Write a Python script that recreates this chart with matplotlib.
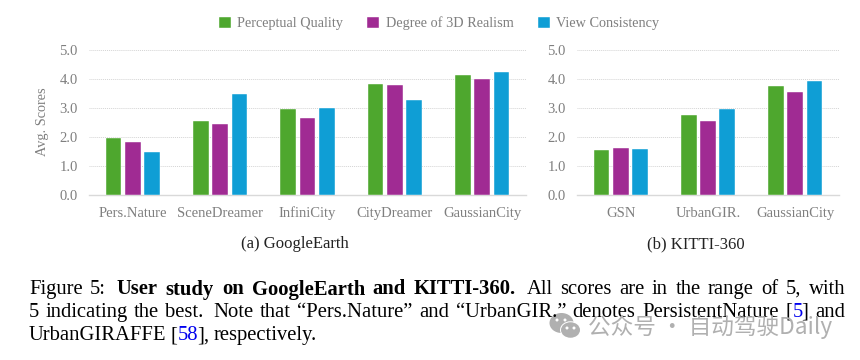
import matplotlib
matplotlib.use("Agg")
import matplotlib.pyplot as plt
from matplotlib.patches import Ellipse
import numpy as np

plt.rcParams['font.family'] = ['Liberation Serif', 'DejaVu Sans']

# data
series_names = ['Perceptual Quality', 'Degree of 3D Realism', 'View Consistency']
series_colors = ['#4EA72E', '#A02B93', '#0F9ED5']

ge_methods = ['Pers.Nature', 'SceneDreamer', 'InfiniCity', 'CityDreamer', 'GaussianCity']
ge_quality = [1.98, 2.57, 2.98, 3.84, 4.15]
ge_realism = [1.84, 2.47, 2.67, 3.79, 4.00]
ge_consistency = [1.51, 3.51, 3.01, 3.30, 4.25]

kitti_methods = ['GSN', 'UrbanGIR.', 'GaussianCity']
kitti_quality = [1.55, 2.76, 3.78]
kitti_realism = [1.64, 2.57, 3.56]
kitti_consistency = [1.60, 2.98, 3.93]

yticks = [0, 1, 2, 3, 4, 5]

GREY = '#7f7f7f'
W, H = 860, 360


def draw_panel(ax, methods, values):
    '''
    Grouped bars with dotted grid
    '''
    x = np.arange(len(methods))
    bars = []
    for i, v in enumerate(values):
        b = ax.bar(x + (i - 1) * 0.221, v, width=0.18, color=series_colors[i],
                   edgecolor='white', linewidth=0.3, zorder=3,
                   label=series_names[i])
        bars.append(b)
    ax.set_xlim(-0.5, len(methods) - 0.5)
    ax.set_ylim(0, 5)
    ax.set_xticks(x)
    ax.set_xticklabels(methods, va='baseline')
    ax.set_yticks(yticks)
    ax.set_yticklabels(['%.1f' % t for t in yticks])
    ax.tick_params(length=0, labelsize=10.5, labelcolor=GREY)
    ax.tick_params(axis='x', pad=15.5)
    ax.tick_params(axis='y', pad=8)
    ax.grid(axis='y', color='#d4d4d4', linestyle=(0, (1, 1)), linewidth=0.7, zorder=0)
    ax.set_axisbelow(True)
    ax.spines[['left', 'top', 'right']].set_visible(False)
    ax.spines['bottom'].set_color('#d9d9d9')
    ax.spines['bottom'].set_linewidth(1.0)
    ax.yaxis.get_gridlines()[0].set_visible(False)
    return bars


def px_axes(fig, left, right, top, bottom):
    return fig.add_axes([left / W, 1 - bottom / H, (right - left) / W, (bottom - top) / H])


def justified(ax, renderer, x0, x1, y, s, weight='normal', color='black', size=14.9):
    '''
    Put the words of a run so that they fill x0..x1 like the justified caption
    '''
    words = [ax.text(0, y, w, fontsize=size, fontweight=weight, color=color,
                     ha='left', va='center_baseline') for w in s.split(' ')]
    widths = [t.get_window_extent(renderer).width for t in words]
    gap = (x1 - x0 - sum(widths)) / max(len(words) - 1, 1)
    x = x0
    for t, w in zip(words, widths):
        t.set_x(x)
        x += w + gap


fig = plt.figure(figsize=(8.6, 3.6), dpi=100)
renderer = fig.canvas.get_renderer()

ax1 = px_axes(fig, 89, 526, 50.3, 195.3)
ax2 = px_axes(fig, 577, 839, 50.3, 195.3)
bars = draw_panel(ax1, ge_methods, [ge_quality, ge_realism, ge_consistency])
draw_panel(ax2, kitti_methods, [kitti_quality, kitti_realism, kitti_consistency])

fig.legend(handles=[b[0] for b in bars], labels=series_names, ncol=3,
           loc='center', bbox_to_anchor=(439 / W, 1 - 23.5 / H), frameon=False,
           fontsize=10.3, labelcolor=GREY, handlelength=0.84, handleheight=0.84,
           handletextpad=0.45, columnspacing=1.68, borderpad=0)

# everything else placed in pixel coordinates
over = fig.add_axes([0, 0, 1, 1], zorder=5)
over.set_xlim(0, W)
over.set_ylim(H, 0)
over.axis('off')

over.text(42.5, 122, 'Avg. Scores', rotation=90, ha='center', va='center',
          fontsize=10.3, color=GREY)
over.text(295, 244, '(a) GoogleEarth', ha='center', va='center', fontsize=12, color='#222222')
over.text(695.5, 244, '(b) KITTI-360', ha='center', va='center', fontsize=12, color='#222222')

# caption runs: start, end, line y, text, weight, colour
caption = [
    (29, 106, 287, 'Figure 5:', 'normal', 'black'),
    (117, 516, 287, 'User study on GoogleEarth and KITTI-360.', 'bold', 'black'),
    (527, 845, 287, 'All scores are in the range of 5, with', 'normal', 'black'),
    (29, 203, 310, '5 indicating the best.', 'normal', 'black'),
    (213, 792, 310, 'Note that “Pers.Nature” and “UrbanGIR.” denotes PersistentNature [', 'normal', 'black'),
    (793, 801, 310, '5', 'normal', '#0000ee'),
    (801, 845, 310, '] and', 'normal', 'black'),
    (29, 177, 333, 'UrbanGIRAFFE [', 'normal', 'black'),
    (178, 197, 333, '58', 'normal', '#0000ee'),
    (197, 317, 333, '], respectively.', 'normal', 'black'),
]
for x0, x1, y, s, weight, color in caption:
    justified(over, renderer, x0, x1, y, s, weight, color)

# watermark
wm = '#b0b0b0'
over.add_patch(Ellipse((561.5, 323), 24, 20, color=wm, lw=0))
over.add_patch(Ellipse((570.5, 330), 21, 17.5, color='white', lw=0))
over.add_patch(Ellipse((570.5, 330), 19, 15.5, color=wm, lw=0))
for ex, ey in [(557, 320), (565, 320), (567, 328), (574, 328)]:
    over.add_patch(Ellipse((ex, ey), 3, 3, color='white', lw=0))
over.text(588, 327, '公众号 · 自动驾驶Daily', fontsize=16.3, color=wm,
          family=['Noto Sans CJK SC', 'DejaVu Sans'], ha='left', va='center')

fig.savefig('out.png', dpi=100)
